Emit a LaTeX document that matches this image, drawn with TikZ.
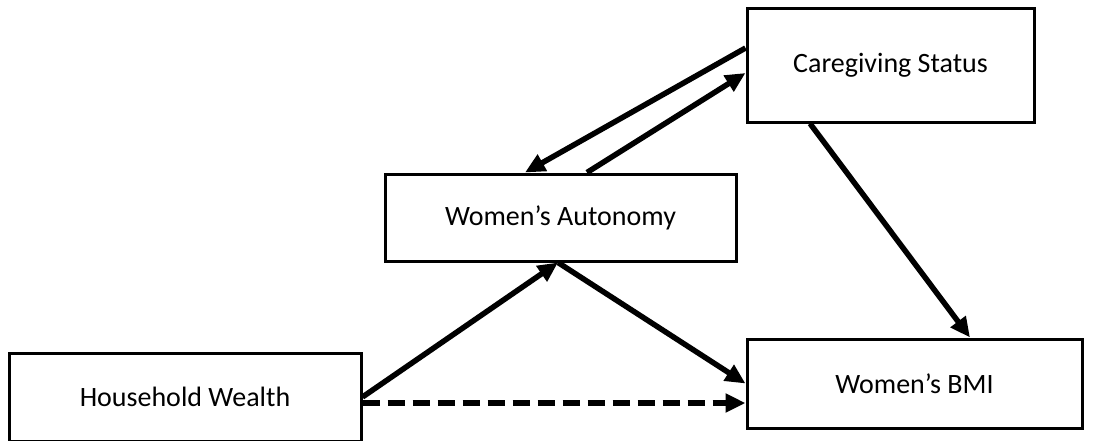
\documentclass[tikz,border=0pt]{standalone}
\usepackage{fontspec}
\setmainfont{Carlito}
\usetikzlibrary{arrows.meta}
\begin{document}
\begin{tikzpicture}[x=1pt,y=-1pt,
  box/.style={draw=black,line width=3pt,fill=white,rectangle,inner sep=0pt,
    font=\fontsize{28}{32}\selectfont},
  path/.style={line width=5.5pt,-{Triangle[length=20pt,width=18pt]}},
  weak/.style={path,dash pattern=on 17pt off 8pt}]
\useasboundingbox (0,0) rectangle (1093,440);

% variables
\node[box,minimum width=287pt,minimum height=114pt] (cs) at (890.5,65) {Caregiving Status};
\node[box,minimum width=351pt,minimum height=87pt] (au) at (560.5,217.5) {Women’s Autonomy};
\node[box,minimum width=352pt,minimum height=88pt] (hw) at (185,397) {Household Wealth};
\node[box,minimum width=335pt,minimum height=89pt] (bm) at (914.5,383.5) {Women’s BMI};

% paths between variables
\draw[path] ([yshift=17pt]cs.west) -- ([xshift=-35.5pt]au.north);
\draw[path] ([xshift=26.5pt]au.north) -- ([yshift=-8pt]cs.west);
\draw[path] (hw.east) -- ([xshift=-2.5pt]au.south);
\draw[path] ([xshift=-2.5pt]au.south) -- (bm.west);
\draw[path] ([xshift=-80.5pt]cs.south) -- ([xshift=55.5pt]bm.north);
\draw[weak] ([yshift=-6pt]hw.east) -- ([yshift=-19.5pt]bm.west);
\end{tikzpicture}
\end{document}
